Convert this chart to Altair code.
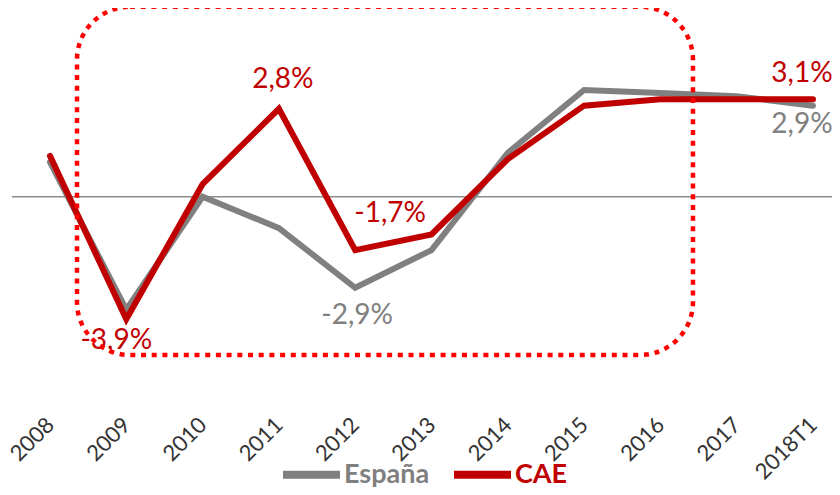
import altair as alt
import pandas as pd

years = ["2008", "2009", "2010", "2011", "2012", "2013", "2014", "2015", "2016", "2017", "2018T1"]
espana = [1.1, -3.6, 0.0, -1.0, -2.9, -1.7, 1.4, 3.4, 3.3, 3.2, 2.9]
cae = [1.3, -3.9, 0.4, 2.8, -1.7, -1.2, 1.2, 2.9, 3.1, 3.1, 3.1]

GRAY = "#808080"
RED = "#C00000"
FONT = "Lato"

rows = []
for i, y in enumerate(years):
    rows.append({"idx": i, "year": y, "series": "España", "value": espana[i]})
    rows.append({"idx": i, "year": y, "series": "CAE", "value": cae[i]})
df = pd.DataFrame(rows)

xscale = alt.Scale(domain=[-0.498, 10.249], nice=False, zero=False)
yscale = alt.Scale(domain=[-5.551, 6.01], nice=False, zero=False)
label_expr = "[" + ",".join("'%s'" % y for y in years) + "][datum.value]"

color = alt.Color(
    "series:N",
    scale=alt.Scale(domain=["España", "CAE"], range=[GRAY, RED]),
    legend=alt.Legend(
        title=None,
        orient="none",
        legendX=267,
        legendY=434,
        direction="horizontal",
        symbolType="stroke",
        symbolSize=3249,
        symbolStrokeWidth=8,
        labelFont=FONT,
        labelFontSize=27,
        labelFontWeight="bold",
        labelColor={"expr": "datum.label == 'CAE' ? '%s' : '%s'" % (RED, GRAY)},
        labelOffset=0,
        columnPadding=8,
        labelLimit=300,
    ),
)

x = alt.X(
    "idx:Q",
    scale=xscale,
    axis=alt.Axis(
        values=list(range(len(years))),
        labelExpr=label_expr,
        labelAngle=-45,
        labelAlign="right",
        labelBaseline="middle",
        labelPadding=50,
        labelFont=FONT,
        labelFontSize=22,
        labelColor="#333333",
        labelOverlap=False,
        labelBound=False,
        labelFlush=False,
        ticks=False,
        domain=False,
        grid=False,
        title=None,
    ),
)
y = alt.Y("value:Q", scale=yscale, axis=None)

base = alt.Chart(df)

zero = alt.Chart(pd.DataFrame({"zero": [0]})).mark_rule(color="#8c8c8c", strokeWidth=1.5).encode(
    y=alt.Y("zero:Q", scale=yscale, axis=None)
)

line_es = base.transform_filter("datum.series == 'España'").mark_line(
    strokeWidth=6, strokeCap="round"
).encode(x=x, y=y, color=color)
line_cae = base.transform_filter("datum.series == 'CAE'").mark_line(
    strokeWidth=6, strokeCap="round"
).encode(x=x, y=y, color=color)


def label(series, idx, dx, dy, col):
    vals = espana if series == "España" else cae
    v = vals[idx]
    txt = ("%.1f%%" % v).replace(".", ",")
    d = pd.DataFrame({"idx": [idx], "value": [v], "txt": [txt]})
    return alt.Chart(d).mark_text(
        dx=dx, dy=dy, font=FONT, fontSize=28, color=col, align="center", baseline="middle"
    ).encode(
        x=alt.X("idx:Q", scale=xscale),
        y=alt.Y("value:Q", scale=yscale),
        text="txt:N",
    )


labels = [
    label("CAE", 3, 4, -29, RED),
    label("CAE", 4, 35, -36, RED),
    label("España", 4, 2, 28, GRAY),
    label("CAE", 1, -10, 22, RED),
    label("CAE", 10, -11, -25, RED),
    label("España", 10, -11, 19, GRAY),
]

rect_df = pd.DataFrame({"x0": [0.354], "x1": [8.427], "y0": [-5.04], "y1": [6.05]})
rect = alt.Chart(rect_df).mark_rect(
    fill="transparent",
    stroke="#FF0000",
    strokeWidth=4.5,
    strokeDash=[5, 5.7],
    cornerRadius=53,
).encode(
    x=alt.X("x0:Q", scale=xscale),
    x2="x1",
    y=alt.Y("y0:Q", scale=yscale),
    y2="y1",
)

chart = alt.layer(zero, line_es, line_cae, *labels, rect).properties(
    width=820,
    height=363,
    autosize=alt.AutoSizeParams(type="none"),
    padding={"left": 4, "top": 0, "right": 0, "bottom": 116},
).configure_view(stroke=None)

chart.save("out.html", embed_options={"renderer": "svg", "actions": False})
